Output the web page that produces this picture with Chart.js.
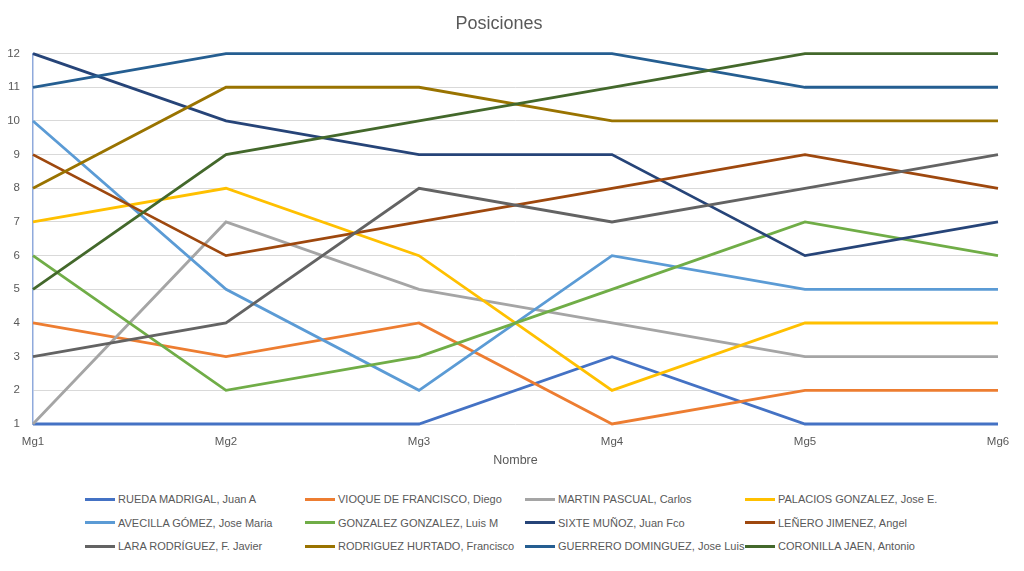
<!DOCTYPE html>
<html>
<head>
<meta charset="utf-8">
<script src="https://cdn.jsdelivr.net/npm/chart.js@4.4.1/dist/chart.umd.min.js"></script>
<style>
  html, body { margin: 0; padding: 0; background: #fff; }
  #wrap { position: relative; width: 1024px; height: 571px; overflow: hidden; }
  #box { position: absolute; left: 0; top: 0; width: 1024px; height: 472px; }
  #legend { position: absolute; left: 85px; top: 489px; display: grid;
            grid-template-columns: 220px 220px 220px 220px; row-gap: 3px;
            font-family: 'Liberation Sans', Arial, sans-serif; font-size: 11px; color: #595959; }
  #legend .item { display: flex; align-items: center; height: 20.5px; white-space: nowrap; }
  #legend .sw { width: 30px; height: 3px; margin-right: 3px; }
</style>
</head>
<body>
<div id="wrap">
  <div id="box"><canvas id="chart"></canvas></div>
  <div id="legend"></div>
</div>
<script>
// Jornadas
const jornadas = ['Mg1', 'Mg2', 'Mg3', 'Mg4', 'Mg5', 'Mg6'];

// Posiciones de cada jugador
const rueda     = [1, 1, 1, 3, 1, 1];
const vioque    = [4, 3, 4, 1, 2, 2];
const martin    = [1, 7, 5, 4, 3, 3];
const palacios  = [7, 8, 6, 2, 4, 4];
const avecilla  = [10, 5, 2, 6, 5, 5];
const gonzalez  = [6, 2, 3, 5, 7, 6];
const sixte     = [12, 10, 9, 9, 6, 7];
const lenero    = [9, 6, 7, 8, 9, 8];
const lara      = [3, 4, 8, 7, 8, 9];
const rodriguez = [8, 11, 11, 10, 10, 10];
const guerrero  = [11, 12, 12, 12, 11, 11];
const coronilla = [5, 9, 10, 11, 12, 12];

const nombres = [
  'RUEDA MADRIGAL, Juan A', 'VIOQUE DE FRANCISCO, Diego', 'MARTIN PASCUAL, Carlos', 'PALACIOS GONZALEZ, Jose E.',
  'AVECILLA GÓMEZ, Jose Maria', 'GONZALEZ GONZALEZ, Luis M', 'SIXTE MUÑOZ, Juan Fco', 'LEÑERO JIMENEZ, Angel',
  'LARA RODRÍGUEZ, F. Javier', 'RODRIGUEZ HURTADO, Francisco', 'GUERRERO DOMINGUEZ, Jose Luis', 'CORONILLA JAEN, Antonio'
];
const series = [rueda, vioque, martin, palacios, avecilla, gonzalez, sixte, lenero, lara, rodriguez, guerrero, coronilla];
const colores = ['#4472C4', '#ED7D31', '#A5A5A5', '#FFC000', '#5B9BD5', '#70AD47',
                 '#264478', '#9E480E', '#636363', '#997300', '#255E91', '#43682B'];

const yTicks = [1, 2, 3, 4, 5, 6, 7, 8, 9, 10, 11, 12];

// como en Excel: las últimas series quedan encima
const datasets = series.map((d, i) => ({
  label: nombres[i],
  data: d,
  borderColor: colores[i],
  backgroundColor: colores[i],
  borderWidth: 2.8,
  pointRadius: 0,
  tension: 0,
  fill: false,
  clip: false,
  order: series.length - i
}));

const font = { family: "'Liberation Sans', Arial, sans-serif", size: 11.5 };

new Chart(document.getElementById('chart'), {
  type: 'line',
  data: { labels: jornadas, datasets: datasets },
  options: {
    responsive: true,
    maintainAspectRatio: false,
    animation: false,
    layout: { padding: { left: 0, right: 26, top: 0, bottom: 0 } },
    plugins: {
      legend: { display: false },
      tooltip: { enabled: false },
      title: {
        display: true,
        text: 'Posiciones',
        color: '#595959',
        font: { family: "'Liberation Sans', Arial, sans-serif", size: 18, weight: 'normal' },
        padding: { top: 13, bottom: 19 }
      }
    },
    scales: {
      x: {
        offset: false,
        grid: { display: false, drawTicks: false },
        border: { display: false },
        ticks: { color: '#595959', font: font, padding: 11, maxRotation: 0 },
        title: { display: true, text: 'Nombre', color: '#595959', font: { family: font.family, size: 12.5 }, padding: { top: 2, bottom: 4 } },
        afterFit: s => { s.height = 48; }
      },
      y: {
        min: 1,
        max: 12,
        afterBuildTicks: s => { s.ticks = yTicks.map(v => ({ value: v })); },
        grid: { color: '#D9D9D9', lineWidth: 1, drawTicks: false },
        border: { display: true, color: '#8FAADC', width: 1.5 },
        ticks: { color: '#595959', font: font, padding: 13 },
        afterFit: s => { s.width = 33; }
      }
    }
  }
});

// Leyenda en cuadrícula de 4 columnas
const legend = document.getElementById('legend');
nombres.forEach((n, i) => {
  const item = document.createElement('div');
  item.className = 'item';
  const sw = document.createElement('span');
  sw.className = 'sw';
  sw.style.background = colores[i];
  const txt = document.createElement('span');
  txt.textContent = n;
  item.appendChild(sw);
  item.appendChild(txt);
  legend.appendChild(item);
});
</script>
</body>
</html>
